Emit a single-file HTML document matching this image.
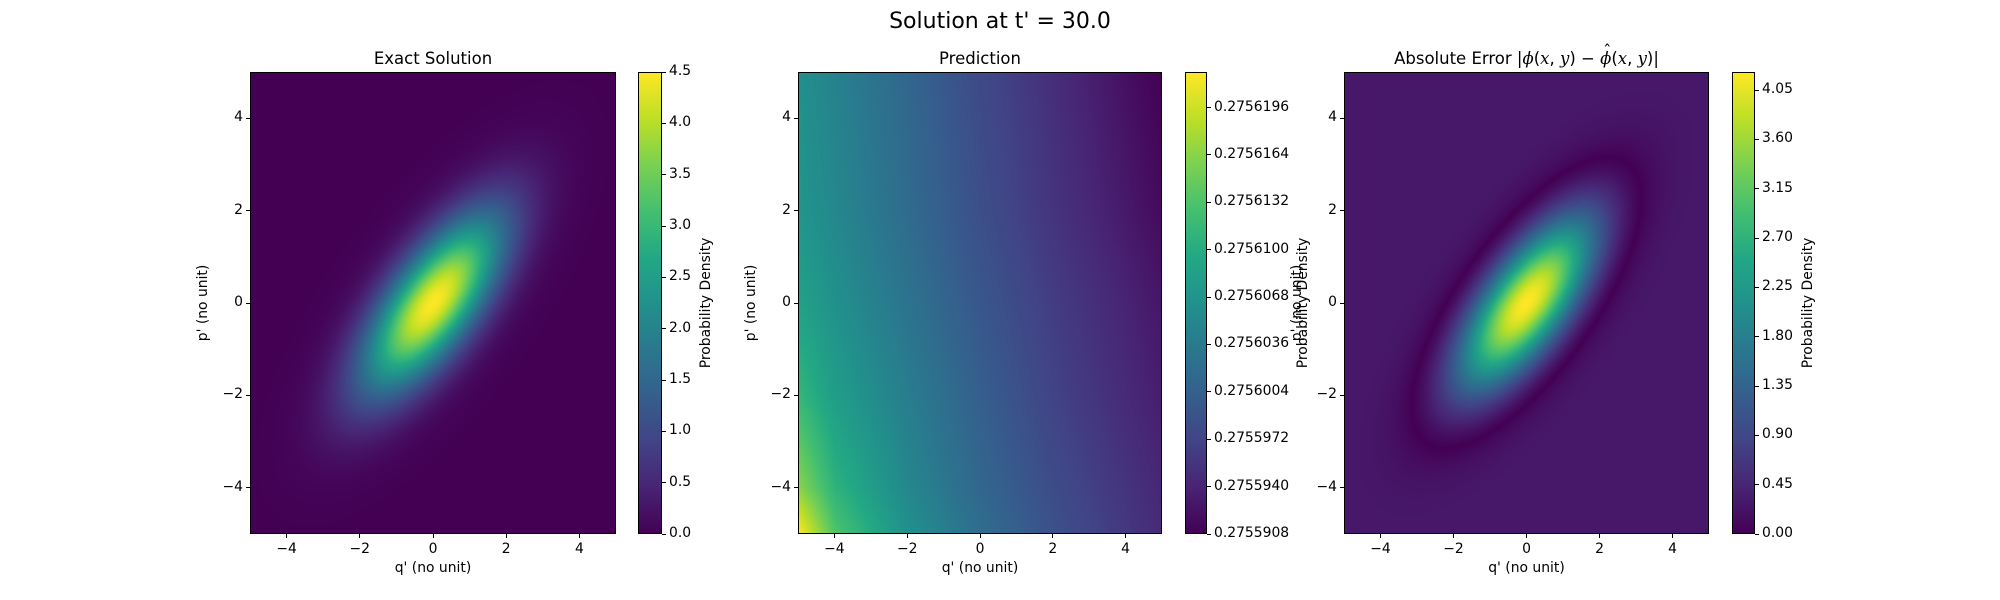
<!DOCTYPE html>
<html><head><meta charset="utf-8">
<style>
html,body{margin:0;padding:0;background:#fff;}
#fig{position:relative;width:2000px;height:600px;overflow:hidden;font-family:"DejaVu Sans","Liberation Sans",sans-serif;color:#000;}
.t{position:absolute;white-space:nowrap;line-height:1;}
.ax{position:absolute;box-sizing:border-box;border:1px solid #000;}
.ax canvas,.cb canvas{position:absolute;left:0;top:0;width:100%;height:100%;}
.cb{position:absolute;box-sizing:border-box;border:1px solid #000;}
.tk{position:absolute;background:#000;}
.math i{font-family:"DejaVu Serif","Liberation Serif",serif;font-style:italic;}
.hat{position:relative;display:inline-block;}
.hat b{position:absolute;left:3px;top:-7px;font-weight:normal;font-style:normal;}
</style></head>
<body>
<div id="fig">
  <div class="t" style="left:0;width:2000px;text-align:center;top:11px;font-size:22px;">Solution at t' = 30.0</div>
</div>
<script>
// ---- data ----
const xTicks = [-4, -2, 0, 2, 4];
const yTicks = [-4, -2, 0, 2, 4];
const exactPeak = [4.49];
const exactSigma = [1.75, 0.72];     // major, minor
const exactAngleDeg = [45];
const exactCbTicks = [0.0, 0.5, 1.0, 1.5, 2.0, 2.5, 3.0, 3.5, 4.0, 4.5];
const predGridX = [-5, -4, -2, 0, 2, 5];
const predGridY = [5, 2, 0, -2, -4, -5];
const predValues = [
 [0.2756064,0.2756045,0.2756011,0.2755977,0.2755949,0.2755908],
 [0.2756070,0.2756052,0.2756017,0.2755983,0.2755955,0.2755917],
 [0.2756086,0.2756064,0.2756027,0.2755992,0.2755964,0.2755927],
 [0.2756114,0.2756080,0.2756039,0.2756002,0.2755970,0.2755933],
 [0.2756164,0.2756108,0.2756052,0.2756011,0.2755980,0.2755942],
 [0.2756220,0.2756133,0.2756064,0.2756020,0.2755986,0.2755945]];
const predCbTicks = ["0.2755908","0.2755940","0.2755972","0.2756004","0.2756036","0.2756068","0.2756100","0.2756132","0.2756164","0.2756196"];
const errCbTicks = ["0.00","0.45","0.90","1.35","1.80","2.25","2.70","3.15","3.60","4.05"];

const VIR = ["#440154","#482475","#414487","#355f8d","#2a788e","#21918c","#22a884","#44bf70","#7ad151","#bddf26","#fde725"].map(h=>[parseInt(h.slice(1,3),16),parseInt(h.slice(3,5),16),parseInt(h.slice(5,7),16)]);
function vir(t){t=Math.max(0,Math.min(1,t));const f=t*10,i=Math.min(9,Math.floor(f)),u=f-i;const a=VIR[i],b=VIR[i+1];return [a[0]+(b[0]-a[0])*u,a[1]+(b[1]-a[1])*u,a[2]+(b[2]-a[2])*u];}

function exact(x,y){
  const a=exactAngleDeg[0]*Math.PI/180, c=Math.cos(a), s=Math.sin(a);
  const u=x*c+y*s, v=-x*s+y*c;
  return exactPeak[0]*Math.exp(-0.5*(u*u/(exactSigma[0]**2)+v*v/(exactSigma[1]**2)));
}
function seg(arr,v){
  const asc=arr[arr.length-1]>arr[0];
  for(let i=0;i<arr.length-1;i++){const a=arr[i],b=arr[i+1];
    if(asc? (v>=a&&v<=b):(v<=a&&v>=b)) return [i,(v-a)/(b-a)];}
  return asc? (v<arr[0]?[0,0]:[arr.length-2,1]) : (v>arr[0]?[0,0]:[arr.length-2,1]);
}
function pred(x,y){
  const [i,u]=seg(predGridX,x), [j,w]=seg(predGridY,y);
  const p00=predValues[j][i],p01=predValues[j][i+1],p10=predValues[j+1][i],p11=predValues[j+1][i+1];
  return (p00*(1-u)+p01*u)*(1-w)+(p10*(1-u)+p11*u)*w;
}
const predFlat=predValues.flat();
const pMin=Math.min(...predFlat), pMax=Math.max(...predFlat);

const fig=document.getElementById('fig');
function mk(cls,name,style,html){const d=document.createElement('div');d.className=cls;


d.setAttribute('style',style);if(html!==undefined)d.innerHTML=html;fig.appendChild(d);return d;}

const AX_T=72, AX_B=534;
const panels=[
 {L:250,R:616,cbL:638,cbR:662,title:"Exact Solution",key:"exact",cbLab:707},
 {L:798,R:1162,cbL:1185,cbR:1207,title:"Prediction",key:"pred",cbLab:1304},
 {L:1344,R:1709,cbL:1732,cbR:1755,title:'Absolute Error |<i>ϕ</i>(<i>x</i>, <i>y</i>) − <span class="hat"><i>ϕ</i><b>ˆ</b></span>(<i>x</i>, <i>y</i>)|',key:"err",cbLab:1809}
];
let errMax=0;
for(let xx=-5;xx<=5;xx+=0.05)for(let yy=-5;yy<=5;yy+=0.05){const e=Math.abs(exact(xx,yy)-pred(xx,yy));if(e>errMax)errMax=e;}

panels.forEach((P,k)=>{
  const W=P.R-P.L,H=AX_B-AX_T;
  const sx=x=>P.L+(x+5)/10*W, sy=y=>AX_T+(5-y)/10*H;
  const ax=mk('ax','plot-area-'+P.key,`left:${P.L}px;top:${AX_T}px;width:${W}px;height:${H}px;`);
  const cv=document.createElement('canvas');cv.width=W;cv.height=H;ax.insertBefore(cv,ax.firstChild);
  
  
  const ctx=cv.getContext('2d'),img=ctx.createImageData(W,H);
  let vmin,vmax;
  if(P.key==='exact'){vmin=0;vmax=exactCbTicks[exactCbTicks.length-1];}
  else if(P.key==='pred'){vmin=pMin;vmax=pMax;}
  else {vmin=0;vmax=errMax;}
  for(let py=0;py<H;py++)for(let px=0;px<W;px++){
    const x=-5+(px+0.5)/W*10, y=5-(py+0.5)/H*10;
    let v= P.key==='exact'?exact(x,y): P.key==='pred'?pred(x,y): Math.abs(exact(x,y)-pred(x,y));
    const c=vir((v-vmin)/(vmax-vmin));const o=(py*W+px)*4;
    img.data[o]=c[0];img.data[o+1]=c[1];img.data[o+2]=c[2];img.data[o+3]=255;}
  ctx.putImageData(img,0,0);
  mk('t','title-'+P.key,`left:${P.L}px;width:${W}px;text-align:center;top:51px;font-size:16.5px;`,'<span class="math">'+P.title+'</span>');
  xTicks.forEach(v=>{const X=sx(v);
    mk('tk','x-tick-'+P.key,`left:${X-0.5}px;top:${AX_B}px;width:1px;height:4px;`);
    mk('t','x-tick-label-'+P.key,`left:${X-20}px;width:40px;text-align:center;top:543px;font-size:13.9px;`,v<0?'−'+(-v):''+v);});
  yTicks.forEach(v=>{const Y=sy(v);
    mk('tk','y-tick-'+P.key,`left:${P.L-4}px;top:${Y-0.5}px;width:4px;height:1px;`);
    mk('t','y-tick-label-'+P.key,`left:${P.L-50}px;width:43px;text-align:right;top:${Y-7}px;font-size:13.9px;`,v<0?'−'+(-v):''+v);});
  mk('t','x-axis-title-'+P.key,`left:${P.L}px;width:${W}px;text-align:center;top:562px;font-size:13.9px;`,"q' (no unit)");
  mk('t','y-axis-title-'+P.key,`left:${P.L-46-60}px;width:120px;text-align:center;top:${(AX_T+AX_B)/2-7}px;font-size:13.9px;transform:rotate(-90deg);`,"p' (no unit)");
  const cw=P.cbR-P.cbL;
  mk('cb','colorbar-'+P.key,`left:${P.cbL}px;top:${AX_T}px;width:${cw}px;height:${H}px;background:linear-gradient(to top,${VIR.map(c=>`rgb(${c})`).join(',')});`);
  let ticks,tv;
  if(P.key==='exact'){ticks=exactCbTicks.map(v=>v.toFixed(1));tv=exactCbTicks;}
  else if(P.key==='pred'){ticks=predCbTicks;tv=predCbTicks.map(Number);}
  else{ticks=errCbTicks;tv=errCbTicks.map(Number);}
  ticks.forEach((lab,i)=>{const Y=AX_B-(tv[i]-vmin)/(vmax-vmin)*H; if(Y<AX_T-1)return;
    mk('tk','colorbar-tick-'+P.key,`left:${P.cbR}px;top:${Y-0.5}px;width:4px;height:1px;`);
    mk('t','colorbar-tick-label-'+P.key,`left:${P.cbR+7}px;top:${Y-7}px;font-size:13.9px;`,lab);});
  mk('t','colorbar-title-'+P.key,`left:${P.cbLab-80}px;width:160px;text-align:center;top:${(AX_T+AX_B)/2-7}px;font-size:13.9px;transform:rotate(-90deg);`,"Probability Density");
});
</script>
</body></html>
